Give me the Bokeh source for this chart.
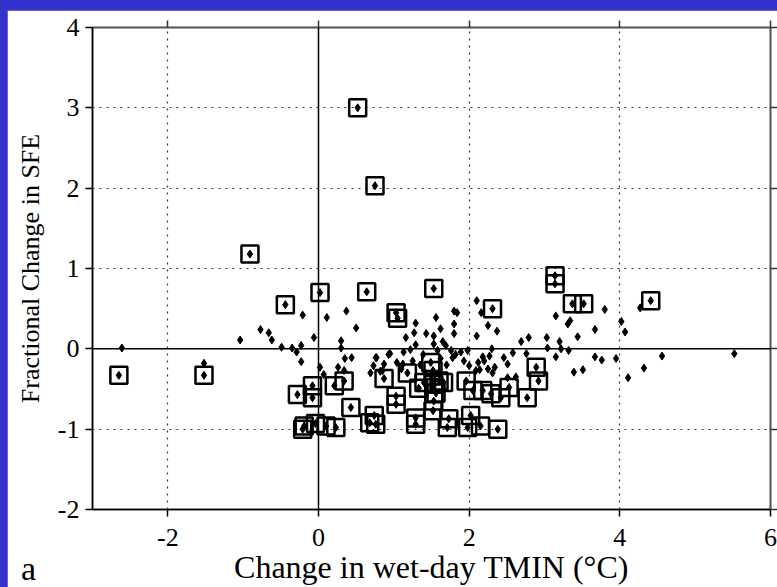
from bokeh.plotting import figure
from bokeh.models import Range1d, FixedTicker, LinearAxis, Span, Div
from bokeh.layouts import column
from bokeh.embed import file_html
from bokeh.resources import INLINE

x_ticks = [-2, 0, 2, 4, 6]
y_ticks = [-2, -1, 0, 1, 2, 3, 4]
x_tick_labels = ["-2", "0", "2", "4", "6"]
y_tick_labels = ["-2", "-1", "0", "1", "2", "3", "4"]
x_label = "Change in wet-day TMIN (°C)"
y_label = "Fractional Change in SFE"
panel_tag = "a"

# significant stations (boxed)
sig_x = [-2.65, -1.52, -0.91, -0.44, 0.02, 0.64, 0.52, 0.75, 1.03, 1.05, 1.53, 2.31,
         3.14, 3.14, 3.37, 3.52, 4.41,
         -0.28, -0.08, -0.08, 0.21, 0.34, 0.87, 0.43, 0.74, 0.76, 1.03, 1.03,
         -0.19, -0.21, -0.04, 0.10, 0.23, 0.68, 1.18,
         1.49, 1.52, 1.40, 1.53, 1.60, 1.33, 1.56, 1.53, 1.66, 1.96, 2.05, 2.18,
         2.29, 2.42, 2.53, 2.77, 2.89, 2.92,
         1.29, 1.29, 1.52, 1.73, 1.71, 2.02, 1.98, 2.15, 2.38]
sig_y = [-0.33, -0.33, 1.18, 0.55, 0.70, 0.71, 3.00, 2.03, 0.45, 0.38, 0.75, 0.50,
         0.91, 0.81, 0.56, 0.56, 0.60,
         -0.57, -0.46, -0.61, -0.46, -0.40, -0.37, -0.73, -0.83, -0.94, -0.59, -0.69,
         -0.96, -1.00, -0.93, -0.96, -0.98, -0.92, -0.30,
         -0.17, -0.27, -0.42, -0.44, -0.40, -0.49, -0.55, -0.65, -0.42, -0.40, -0.52, -0.52,
         -0.56, -0.61, -0.48, -0.61, -0.23, -0.40,
         -0.86, -0.94, -0.77, -0.87, -0.98, -0.83, -0.98, -0.96, -1.00]

# other stations
oth_x = [-2.61, -1.52, -1.04, -0.77, -0.66, -0.62, -0.49, -0.35, -0.29, -0.23, -0.23,
         -0.21, 0.11, 0.37, 0.50, -0.06, 0.30, 0.30, 0.35, 0.44, 0.02, 0.07, 0.26, 0.34,
         0.69, 0.73, 0.76, 0.93, 1.13, 1.22, 1.16, 1.27, 1.29, 0.82, 1.10, 1.12,
         0.87, 0.95, 1.04, 0.85, 0.77,
         2.10, 2.16, 2.25, 2.37, 2.10, 1.80, 1.84, 1.56, 1.62, 1.80, 1.80, 1.43, 1.53,
         1.53, 1.65, 1.69, 1.29, 1.39, 1.58, 1.76, 1.89, 1.98, 1.78, 1.82, 2.18, 2.27,
         2.30, 2.20, 2.46, 2.51, 2.58, 2.69, 2.79, 2.76, 3.03, 3.04, 3.20, 3.22, 3.32,
         3.15, 3.44, 3.67, 3.67, 3.39, 3.51, 3.15, 3.31, 3.34, 2.09, 2.14, 2.25, 2.34,
         2.31, 2.51, 2.62, 1.93, 2.00, 1.25, 1.35, 1.70, 1.62, 1.42, 2.12,
         3.80, 4.27, 4.02, 4.07, 3.76, 3.95, 4.56, 4.32, 4.11, 5.52]
oth_y = [0.01, -0.18, 0.11, 0.24, 0.20, 0.11, 0.02, 0.01, -0.04, 0.04, -0.16,
         0.42, 0.39, 0.47, 0.26, 0.14, 0.10, 0.01, -0.12, -0.11, -0.23, -0.32, -0.23, -0.27,
         -0.30, -0.21, -0.11, -0.07, -0.04, -0.01, 0.14, 0.20, 0.32, -0.28, -0.25, -0.19,
         -0.19, -0.06, -0.17, -0.27, -0.11,
         0.60, 0.45, 0.29, 0.22, 0.16, 0.47, 0.45, 0.39, 0.25, 0.31, 0.19, 0.19, 0.16,
         0.06, 0.09, 0.04, 0.05, -0.07, -0.02, -0.02, -0.04, -0.02, -0.11, -0.07, -0.10, -0.09,
         0.00, -0.15, -0.11, -0.19, -0.05, 0.09, 0.14, -0.06, 0.14, 0.01, 0.09, 0.00, -0.02,
         -0.10, 0.15, 0.24, -0.10, -0.29, -0.26, 0.41, 0.31, 0.35, -0.27, -0.26, -0.25, -0.23,
         -0.30, -0.36, -0.35, -0.15, -0.21, -0.15, -0.20, -0.20, -0.12, -0.30, -0.17,
         0.49, 0.51, 0.34, 0.21, -0.14, -0.12, -0.09, -0.24, -0.36, -0.06]

FONT = "Liberation Serif"

p = figure(width=770, height=577, x_range=Range1d(-3, 6), y_range=Range1d(-2, 4),
           output_backend="svg", toolbar_location=None,
           min_border_left=85, min_border_right=7, min_border_top=17, min_border_bottom=77,
           x_axis_label=x_label, y_axis_label=y_label)
p.background_fill_color = "white"
p.border_fill_color = "white"
p.outline_line_color = "black"
p.outline_line_width = 1.5

for ax in (p.xaxis[0], p.yaxis[0]):
    ax.major_tick_out = 7
    ax.major_tick_in = 0
    ax.minor_tick_out = 0
    ax.minor_tick_in = 0
    ax.axis_line_color = "black"
    ax.axis_line_width = 1.5
    ax.major_tick_line_width = 1.5
    ax.major_label_text_font = FONT
    ax.major_label_text_font_size = "26px"
    ax.major_label_text_color = "black"
    ax.axis_label_text_font = FONT
    ax.axis_label_text_font_style = "normal"
    ax.axis_label_text_color = "black"

p.xaxis[0].ticker = FixedTicker(ticks=x_ticks)
p.yaxis[0].ticker = FixedTicker(ticks=y_ticks)
p.xaxis[0].major_label_overrides = dict(zip(x_ticks, x_tick_labels))
p.yaxis[0].major_label_overrides = dict(zip(y_ticks, y_tick_labels))
p.xaxis[0].axis_label_text_font_size = "32px"
p.yaxis[0].axis_label_text_font_size = "26px"
p.xaxis[0].major_label_standoff = 12
p.yaxis[0].major_label_standoff = 6
p.xaxis[0].axis_label_standoff = 0
p.yaxis[0].axis_label_standoff = 10

for side, tk in (("above", x_ticks), ("right", y_ticks)):
    ax = LinearAxis(ticker=FixedTicker(ticks=tk))
    ax.major_tick_out = 7
    ax.major_tick_in = 0
    ax.minor_tick_out = 0
    ax.minor_tick_in = 0
    ax.major_tick_line_width = 1.5
    ax.axis_line_width = 1.5
    ax.axis_line_color = "#555555"
    ax.major_tick_line_color = "#333333"
    ax.major_label_text_font_size = "6px"
    ax.major_label_text_color = None
    ax.major_label_standoff = 0
    p.add_layout(ax, side)

p.xgrid.ticker = FixedTicker(ticks=[-2, 2, 4])
p.ygrid.ticker = FixedTicker(ticks=[-1, 1, 2, 3])
for g in (p.xgrid[0], p.ygrid[0]):
    g.grid_line_color = "#333333"
    g.grid_line_dash = "2 5"
    g.grid_line_width = 1.2

p.add_layout(Span(location=0, dimension="height", line_color="black", line_width=1.5))
p.add_layout(Span(location=0, dimension="width", line_color="black", line_width=1.5))

p.scatter(oth_x, oth_y, marker="diamond", size=8, fill_color="black", line_color="black")
p.scatter(sig_x, sig_y, marker="diamond", size=8, fill_color="black", line_color="black")
p.scatter(sig_x, sig_y, marker="square", size=17, fill_color=None, line_color="black",
          line_width=2.5)

p.margin = (10, 0, 0, 7)

tag = Div(text=panel_tag, width=30, height=36,
          styles={"position": "absolute", "left": "16px", "top": "546px",
                  "font-family": FONT, "font-size": "34px", "line-height": "36px",
                  "color": "black", "z-index": "10"})

layout = column(p, tag, width=777, height=587,
                styles={"background-color": "#3333cc", "position": "relative"})

open("out.html", "w").write(file_html(layout, INLINE))
